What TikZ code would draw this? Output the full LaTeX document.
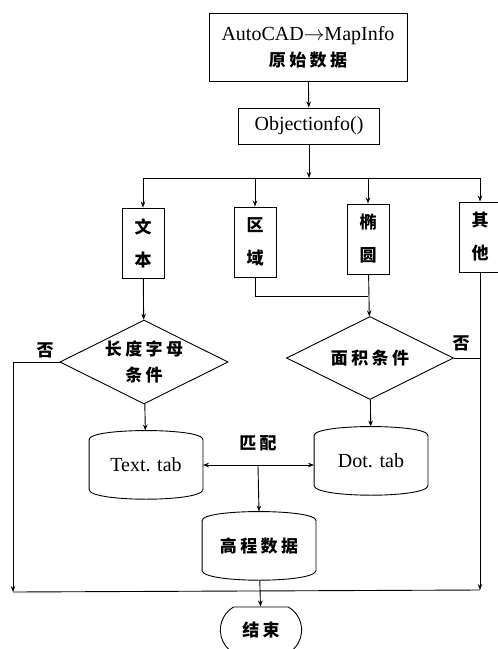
\documentclass[tikz,border=0pt]{standalone}
\usepackage{fontspec}
\setmainfont{Liberation Serif}
\newfontfamily\cjk{Noto Sans CJK SC}[LetterSpace=20]
\usetikzlibrary{arrows.meta}
\usetikzlibrary{shapes.geometric}
\usetikzlibrary{shapes.misc}
\newcommand{\drumoutline}[1]{%
  \draw ([yshift=-9pt]#1.north west) -- ([yshift=10pt]#1.south west)
    .. controls ([yshift=-3pt]#1.south west) and ([yshift=-3pt]#1.south east) .. ([yshift=10pt]#1.south east)
    -- ([yshift=-9pt]#1.north east)
    .. controls ([yshift=3pt]#1.north east) and ([yshift=3pt]#1.north west) .. cycle;}

\begin{document}
\begin{tikzpicture}[x=1pt, y=-1pt, line width=0.9pt,
    >={Stealth[length=6pt,width=4.5pt]},
    font=\fontsize{20}{26}\selectfont,
    cn/.style={font=\fontsize{17}{26}\selectfont\cjk\bfseries},
    box/.style={draw, inner sep=0pt, align=center},
    vbox/.style={box, cn, font=\fontsize{17}{33}\selectfont\cjk\bfseries, minimum width=42pt, minimum height=70pt},
    cond/.style={draw, diamond, aspect=2, inner sep=0pt, align=center, cn},
    drum/.style={inner sep=0pt, minimum width=113pt, minimum height=68pt},
    term/.style={draw, rounded rectangle, rounded rectangle arc length=120, minimum width=88pt, minimum height=46pt, cn}]
  \useasboundingbox (0,0) rectangle (498,649);
  % top part
  \node[box, minimum width=198pt, minimum height=68pt] (src) at (308,47) {AutoCAD$\to$MapInfo\\{\fontsize{17}{26}\selectfont\cjk\bfseries 原始数据}};
  \node[box, minimum width=141pt, minimum height=36pt] (obj) at (309,126) {Objectionfo()};
  \coordinate (fork) at (309,178);
  \node[vbox] (text) at (143,243) {文\\本};
  \node[vbox] (area) at (255,242) {区\\域};
  \node[vbox] (ellip) at (368,239) {椭\\圆};
  \node[vbox] (other) at (480,237) {其\\他};
  % conditions and tables
  \node[cond, minimum width=168pt, minimum height=84pt] (lenc) at (144,362) {长度字母\\条件};
  \node[cond, minimum width=167pt, minimum height=83pt] (areac) at (370,358) {面积条件};
  \node[drum] (ttab) at (146,465) {Text. tab};
  \node[drum] (dtab) at (371,461) {Dot. tab};
  \node[drum, cn] (elev) at (259,546) {高程数据};
  \drumoutline{ttab}
  \drumoutline{dtab}
  \drumoutline{elev}
  \node[term] (end) at (261,630) {结束};
  \node[cn] (match) at (258,443) {匹配};
  \node[cn] (no1) at (45,350) {否};
  \node[cn] (no2) at (461,343) {否};
  \coordinate (join) at (368,296);
  \coordinate (mid) at (258,466);
  \coordinate (lft) at (13,592);
  \coordinate (rgt) at (480,590);
  % connectors
  \draw[->] (src) -- (obj);
  \draw[->] (obj) -- (fork);
  \draw (text.north |- fork) -- (other.north |- fork);
  \foreach \b in {text,area,ellip,other}
    \draw[->] (\b.north |- fork) -- (\b);
  \draw[->] (text) -- (lenc);
  \draw (area.south) |- (join);
  \draw[->] (ellip) -- (areac);
  \draw[->] (lenc) -- (ttab);
  \draw[->] (areac) -- (dtab);
  \draw[<->] (ttab.east) -- (ttab.east -| dtab.west);
  \draw[->] (mid) -- (elev.north);
  \draw[->] (lenc.west) -| (lft);
  \draw (lft) -- (rgt);
  \draw[->] (other.south) -- (rgt);
  \draw (areac.east) -- (areac.east -| other.south);
  \draw[->] (elev) -- (end);
\end{tikzpicture}
\end{document}
